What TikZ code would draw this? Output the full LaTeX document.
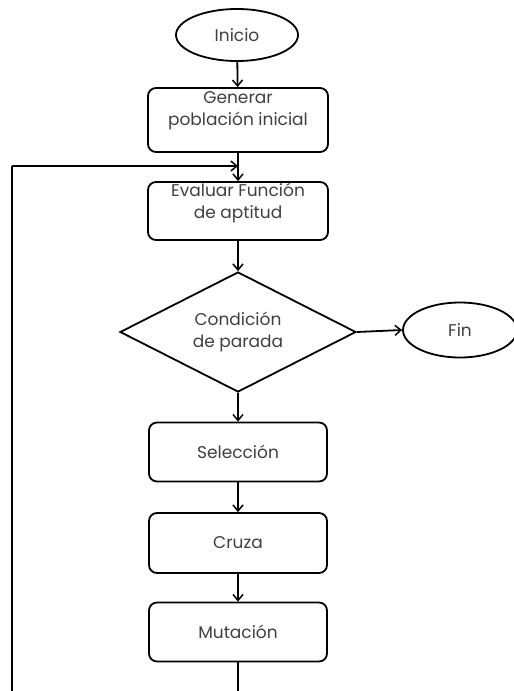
\documentclass[tikz,border=0pt]{standalone}
\usepackage{fontspec}
\setmainfont{Poppins}
\usetikzlibrary{shapes.geometric,arrows.meta}
\definecolor{txt}{HTML}{404040}
\tikzset{
  box/.style={draw, line width=1.8pt, rounded corners=8pt, minimum width=178pt, inner sep=0pt},
  oval/.style={draw, ellipse, line width=1.8pt, inner sep=0pt},
  dec/.style={draw, diamond, line width=1.8pt, inner sep=0pt, minimum width=236pt, minimum height=120pt},
  lbl/.style={text=txt, font=\fontsize{17}{22}\selectfont, align=center},
  conn/.style={line width=1.8pt, -{Straight Barb[length=6pt,width=10pt,line width=1.5pt]}},
  plain/.style={line width=1.8pt}
}
\begin{document}
\begin{tikzpicture}[x=1pt,y=-1pt]
\clip (0,0) rectangle (514,691);
\fill[white] (0,0) rectangle (514,691);
\node[oval, minimum width=122pt, minimum height=52pt] (ini) at (237,35) {};
\node[lbl] at (ini.center) {Inicio};
\node[box, minimum width=180pt, minimum height=64pt] (gen) at (238,120) {};
\node[lbl, yshift=9pt] at (gen.center) {Generar\\población inicial};
\node[box, minimum width=180pt, minimum height=58pt] (eva) at (238,211) {};
\node[lbl, yshift=8pt] at (eva.center) {Evaluar Función\\de aptitud};
\node[dec] (cond) at (238,332) {};
\node[lbl] at (cond.center) {Condición\\de parada};
\node[oval, minimum width=114pt, minimum height=55pt] (fin) at (460,330) {};
\node[lbl] at (fin.center) {Fin};
\node[box, minimum height=59pt] (sel) at (238,452) {};
\node[lbl] at (sel.center) {Selección};
\node[box, minimum height=60pt] (cru) at (238,543) {};
\node[lbl] at (cru.center) {Cruza};
\node[box, minimum height=59pt] (mut) at (238,632) {};
\node[lbl] at (mut.center) {Mutación};
\coordinate (loopin) at (238,166);
\coordinate (lefttop) at (12,166);
\draw[conn] (ini) -- (gen);
\draw[conn] (gen) -- (eva);
\draw[conn] (eva) -- (cond);
\draw[conn] (cond.east) -- (fin.west);
\draw[conn] (cond) -- (sel);
\draw[conn] (sel) -- (cru);
\draw[conn] (cru) -- (mut);
\draw[plain] (mut.south) -- ++(0,40) -| (lefttop);
\draw[conn] (lefttop) -- (loopin);
\end{tikzpicture}
\end{document}
